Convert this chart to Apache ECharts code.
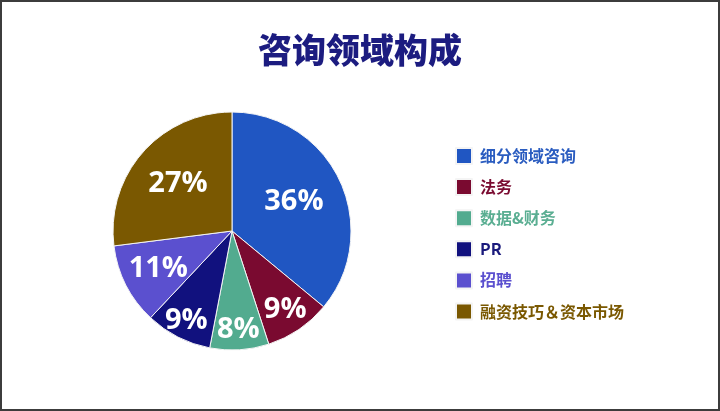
<!DOCTYPE html>
<html>
<head>
	<meta charset="utf-8">
	<title>咨询领域构成</title>
	<script src="https://cdn.jsdelivr.net/npm/echarts@6/dist/echarts.min.js"></script>
	<style type="text/css">
		html,body{
			margin: 0;
			padding: 0;
			width: 720px;
			height: 411px;
			overflow: hidden;
			background: #fff;
		}
		#main{
			position: absolute;
			left: 0;
			top: 0;
			width: 720px;
			height: 411px;
		}
		#frame{
			position: absolute;
			left: 0;
			top: 0;
			width: 720px;
			height: 411px;
			box-sizing: border-box;
			border: 2px solid #3c3c3c;
			pointer-events: none;
		}
	</style>
</head>
<body>
<div id="main"></div>
<div id="frame"></div>
<script>
    // 分类
    var names = ['细分领域咨询', '法务', '数据&财务', 'PR', '招聘', '融资技巧＆资本市场'];
    // 占比（%）
    var values = [36, 9, 8, 9, 11, 27];

    var colors = ['#2056c2', '#7a0a30', '#52ab8f', '#11117e', '#5b50cf', '#7a5801'];
    var textColors = ['#2a5cc0', '#7a0a30', '#5aae92', '#1a1a7c', '#5b50cf', '#7a5801'];
    // 标签离圆心的距离（相对半径）
    var labelDist = [0.55, 0.77, 0.81, 0.82, 0.67, 0.58];

    var radius = 119;
    var total = values.reduce(function (a, b) { return a + b; }, 0);

    var acc = 0;
    var pieData = [];
    for (var i = 0; i < values.length; i++) {
        var mid = (acc + values[i] / 2) / total * Math.PI * 2;
        acc += values[i];
        var d = (labelDist[i] - 0.5) * radius;
        pieData.push({
            name: names[i],
            value: values[i],
            itemStyle: { color: colors[i] },
            label: { offset: [d * Math.sin(mid), -d * Math.cos(mid)] }
        });
    }

    var legendData = [];
    for (var j = 0; j < names.length; j++) {
        legendData.push({ name: names[j], textStyle: { color: textColors[j] } });
    }

    var myChart = echarts.init(document.getElementById('main'));
    var option = {
        animation: false,
        title: {
            text: '咨询领域构成',
            left: 'center',
            top: 28,
            textStyle: {
                fontFamily: 'Noto Sans CJK SC',
                fontSize: 34,
                fontWeight: 900,
                color: '#1c1c80'
            }
        },
        legend: {
            orient: 'vertical',
            left: 450,
            top: 142,
            icon: 'rect',
            itemWidth: 16,
            itemHeight: 16,
            itemGap: 13.1,
            textStyle: {
                fontFamily: 'Noto Sans CJK SC',
                fontSize: 16,
                fontWeight: 'bold',
                lineHeight: 16,
                padding: [0, 0, 0, 3]
            },
            data: legendData
        },
        series: [
            {
                type: 'pie',
                center: [232, 231],
                radius: radius,
                startAngle: 90,
                clockwise: true,
                avoidLabelOverlap: false,
                itemStyle: {
                    borderColor: '#f4f4f4',
                    borderWidth: 1
                },
                label: {
                    position: 'inside',
                    formatter: '{c}%',
                    color: '#fff',
                    fontFamily: 'Open Sans',
                    fontSize: 29,
                    fontWeight: 'bold'
                },
                labelLine: { show: false },
                emphasis: { disabled: true },
                data: pieData
            }
        ]
    };
    myChart.setOption(option);
</script>
</body>
</html>
